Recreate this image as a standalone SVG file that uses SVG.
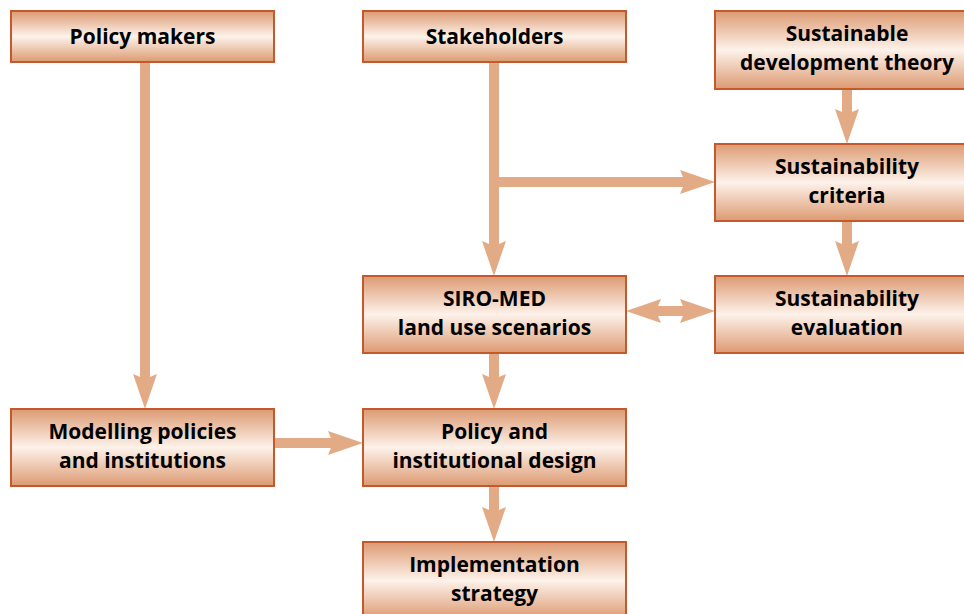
<svg xmlns="http://www.w3.org/2000/svg" width="964" height="614" viewBox="0 0 964 614">
  <defs>
    <linearGradient id="boxFill" x1="0" y1="0" x2="0" y2="1">
      <stop offset="0" stop-color="#dc9a72"/>
      <stop offset="0.5" stop-color="#fdf2ea"/>
      <stop offset="1" stop-color="#dc9a72"/>
    </linearGradient>
    <marker id="head" viewBox="-36 -13 37 26" refX="-30" refY="0" markerWidth="37" markerHeight="26" markerUnits="userSpaceOnUse" orient="auto-start-reverse">
      <path d="M0,0 L-35,-12 L-30,0 L-35,12 Z" fill="#e2ab85"/>
    </marker>
    <style>
      .box { fill: url(#boxFill); stroke: #c4592b; stroke-width: 2; }
      .label { font-family: "Open Sans", "Noto Sans", sans-serif; font-weight: 700; font-size: 21px; fill: #000; text-anchor: middle; }
      .link { stroke: #e2ab85; stroke-width: 10; fill: none; marker-end: url(#head); }
    </style>
  </defs>

  <g id="connectors">
    <line class="link" x1="145" y1="62" x2="145" y2="379"/>
    <line class="link" x1="494" y1="62" x2="494" y2="246"/>
    <line class="link" x1="494" y1="182" x2="685" y2="182"/>
    <line class="link" x1="847" y1="89" x2="847" y2="114"/>
    <line class="link" x1="847" y1="222" x2="847" y2="246"/>
    <line class="link" x1="656" y1="311" x2="685" y2="311" marker-start="url(#head)"/>
    <line class="link" x1="494" y1="353" x2="494" y2="379"/>
    <line class="link" x1="274" y1="443" x2="333" y2="443"/>
    <line class="link" x1="494" y1="486" x2="494" y2="512"/>
  </g>

  <g id="policy-makers">
    <rect class="box" x="11" y="11" width="263" height="51"/>
    <text class="label" x="142.5" y="43.5">Policy makers</text>
  </g>
  <g id="stakeholders">
    <rect class="box" x="363" y="11" width="263" height="51"/>
    <text class="label" x="494.5" y="43.5">Stakeholders</text>
  </g>
  <g id="sustainable-development-theory">
    <rect class="box" x="715" y="11" width="263" height="78"/>
    <text class="label" x="847" y="41">Sustainable</text>
    <text class="label" x="847" y="70">development theory</text>
  </g>
  <g id="sustainability-criteria">
    <rect class="box" x="715" y="144" width="263" height="77"/>
    <text class="label" x="847" y="174">Sustainability</text>
    <text class="label" x="847" y="203">criteria</text>
  </g>
  <g id="siro-med">
    <rect class="box" x="363" y="276" width="263" height="77"/>
    <text class="label" x="494.5" y="306">SIRO-MED</text>
    <text class="label" x="494.5" y="335">land use scenarios</text>
  </g>
  <g id="sustainability-evaluation">
    <rect class="box" x="715" y="276" width="263" height="77"/>
    <text class="label" x="847" y="306">Sustainability</text>
    <text class="label" x="847" y="335">evaluation</text>
  </g>
  <g id="modelling-policies">
    <rect class="box" x="11" y="409" width="263" height="77"/>
    <text class="label" x="142.5" y="439">Modelling policies</text>
    <text class="label" x="142.5" y="468">and institutions</text>
  </g>
  <g id="policy-design">
    <rect class="box" x="363" y="409" width="263" height="77"/>
    <text class="label" x="494.5" y="439">Policy and</text>
    <text class="label" x="494.5" y="468">institutional design</text>
  </g>
  <g id="implementation-strategy">
    <rect class="box" x="363" y="542" width="263" height="77"/>
    <text class="label" x="494.5" y="572">Implementation</text>
    <text class="label" x="494.5" y="601">strategy</text>
  </g>
</svg>
